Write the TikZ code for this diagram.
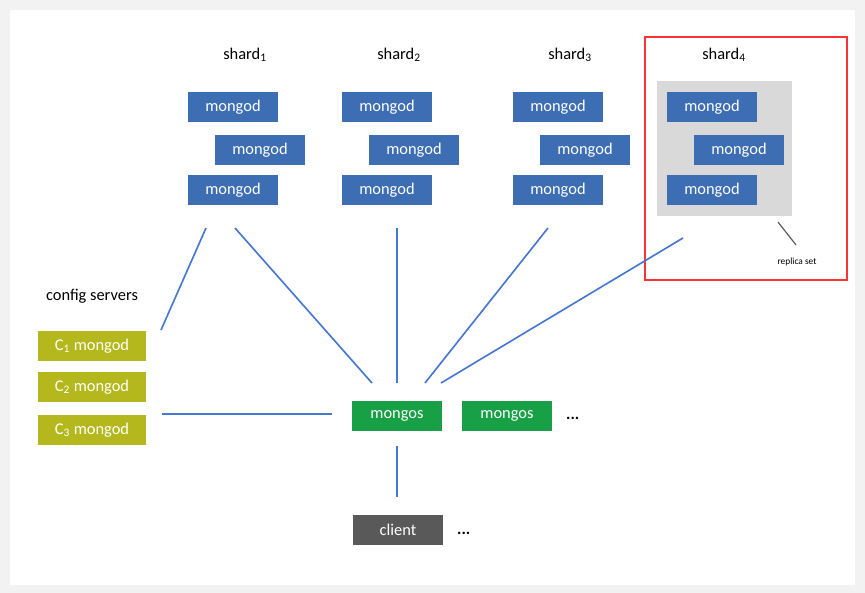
\documentclass[tikz,border=0pt]{standalone}
\usepackage{fontspec}
\setmainfont{Carlito}
\usetikzlibrary{positioning}
\definecolor{mblue}{RGB}{61,110,180}
\definecolor{mgreen}{RGB}{24,160,70}
\definecolor{myellow}{RGB}{181,184,28}
\definecolor{lnblue}{RGB}{70,120,210}
\begin{document}
\begin{tikzpicture}[x=0.03cm, y=-0.03cm,
    box/.style={minimum width=2.7cm, minimum height=0.9cm, inner sep=0pt,
      text=white, font=\fontsize{14}{16}\selectfont},
    mongod/.style={box, fill=mblue},
    mongos/.style={box, fill=mgreen},
    cfg/.style={box, fill=myellow, minimum width=3.24cm},
    link/.style={lnblue, line width=1.4pt},
    lbl/.style={font=\fontsize{14}{16}\selectfont}]
    % Frame
    \fill[gray!10] (0,0) rectangle (865,593);
    \fill[white] (10,10) rectangle (855,585);
    % Shards
    \foreach \i/\x in {1/188,2/342,3/513,4/667}{
      \node[lbl] (s\i) at (\x+57,55) {shard\textsubscript{\i}};
    }
    \fill[gray!30] (657,81) rectangle (792,216);
    \draw[red!80, line width=1pt] (645,37) rectangle (847,280);
    \foreach \i/\x in {1/188,2/342,3/513,4/667}{
      \node[mongod] (a\i) at (\x+45,107) {mongod};
      \node[mongod] (b\i) at (\x+72,150) {mongod};
      \node[mongod] (c\i) at (\x+45,190) {mongod};
    }
    % Replica set label
    \node[font=\fontsize{8}{9}\selectfont] (rs) at (797,262) {replica set};
    \draw[gray!70!black, line width=1pt] (778,222) -- (796,245);
    % Config servers
    \node[lbl] (cfgt) at (92,296) {config servers};
    \node[cfg] (cf1) at (92,346) {C\textsubscript{1} mongod};
    \node[cfg] (cf2) at (92,387) {C\textsubscript{2} mongod};
    \node[cfg] (cf3) at (92,430) {C\textsubscript{3} mongod};
    % Routers and client
    \node[mongos] (r1) at (397,416) {mongos};
    \node[mongos] (r2) at (507,416) {mongos};
    \node[lbl, anchor=west] (dots1) at (562,418) {\textbf{...}};
    \node[box, fill=gray!70!black] (cl) at (398,530) {client};
    \node[lbl, anchor=west] (dots2) at (453,533) {\textbf{...}};
    % Links
    \coordinate (p1) at (206,228); \coordinate (q1) at (161,330);
    \coordinate (p2) at (235,228); \coordinate (q2) at (372,383);
    \coordinate (p3) at (397,228); \coordinate (q3) at (397,383);
    \coordinate (p4) at (548,228); \coordinate (q4) at (425,383);
    \coordinate (p5) at (683,238); \coordinate (q5) at (441,383);
    \coordinate (p6) at (162,414); \coordinate (q6) at (332,414);
    \coordinate (p7) at (397,446); \coordinate (q7) at (397,497);
    \foreach \k in {1,...,7}{ \draw[link] (p\k) -- (q\k); }
\end{tikzpicture}
\end{document}
